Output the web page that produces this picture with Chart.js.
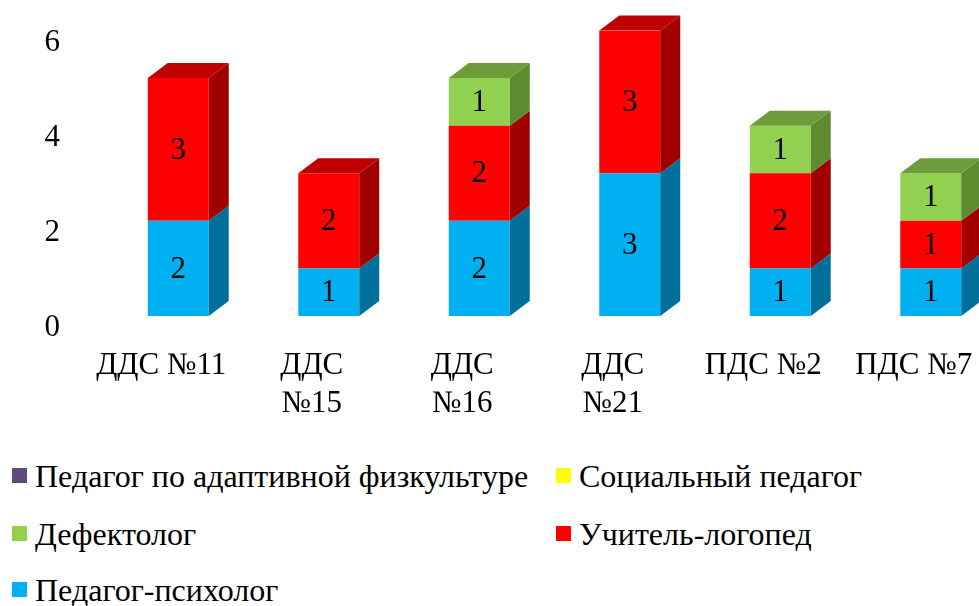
<!DOCTYPE html>
<html>
<head>
<meta charset="utf-8">
<script src="https://cdn.jsdelivr.net/npm/chart.js@4"></script>
<style>
    html, body { margin: 0; padding: 0; background: #fff; overflow: hidden; }
    #wrap { position: relative; width: 979px; height: 606px; overflow: hidden; }
    #chart { position: absolute; left: 0; top: 0; }
    .legend-item { position: absolute; font-family: "Liberation Serif", "Times New Roman", serif; font-size: 32px; color: #000; white-space: nowrap; line-height: 36px; }
    .legend-item span.box { position: absolute; width: 15px; height: 15px; left: 0; top: 10px; }
    .legend-item span.txt { position: absolute; left: 23px; top: 0; }
</style>
</head>
<body>
<div id="wrap">
    <canvas id="chart" width="1010" height="430"></canvas>
    <div id="legend"></div>
</div>
<script>
const categories = ['ДДС №11', ['ДДС', '№15'], ['ДДС', '№16'], ['ДДС', '№21'], 'ПДС №2', 'ПДС №7'];

const seriesNames = ['Педагог-психолог', 'Учитель-логопед', 'Дефектолог', 'Социальный педагог', 'Педагог по адаптивной физкультуре'];
const psychologist = [2, 1, 2, 3, 1, 1];
const speechTherapist = [3, 2, 2, 3, 2, 1];
const defectologist = [0, 0, 1, 0, 1, 1];
const socialPedagog = [0, 0, 0, 0, 0, 0];
const adaptivePE = [0, 0, 0, 0, 0, 0];
const yTicks = [0, 2, 4, 6];

// front / side / top colours for each series
const frontColors = ['#00B0F0', '#FF0000', '#92D050', '#FFFF00', '#604A7B'];
const sideColors = ['#00709A', '#A00000', '#5E8A30', '#A6A600', '#3E3050'];
const topColors = ['#0090C4', '#C00000', '#6E9C3C', '#C8C800', '#4C3B62'];

const FONT = '"Liberation Serif", "Times New Roman", serif';
const DEPTH_X = 20;
const DEPTH_Y = 15;

const seriesValues = [psychologist, speechTherapist, defectologist, socialPedagog, adaptivePE];

const datasets = seriesValues.map((vals, i) => ({
    label: seriesNames[i],
    data: vals,
    backgroundColor: frontColors[i],
    borderWidth: 0,
    barPercentage: 0.405,
    categoryPercentage: 1
}));

// draws the 3D side and top faces of the stacked columns
const depthPlugin = {
    id: 'depth',
    afterDatasetsDraw(chart) {
        const ctx = chart.ctx;
        ctx.save();
        categories.forEach((c, i) => {
            let top = null;
            chart.data.datasets.forEach((ds, d) => {
                if (!ds.data[i]) return;
                const bar = chart.getDatasetMeta(d).data[i];
                const p = bar.getProps(['x', 'y', 'base', 'width'], true);
                const x2 = p.x + p.width / 2;
                ctx.fillStyle = sideColors[d];
                ctx.beginPath();
                ctx.moveTo(x2, p.y);
                ctx.lineTo(x2 + DEPTH_X, p.y - DEPTH_Y);
                ctx.lineTo(x2 + DEPTH_X, p.base - DEPTH_Y);
                ctx.lineTo(x2, p.base);
                ctx.closePath();
                ctx.fill();
                top = { p: p, d: d };
            });
            if (top) {
                const p = top.p;
                const x1 = p.x - p.width / 2;
                const x2 = p.x + p.width / 2;
                ctx.fillStyle = topColors[top.d];
                ctx.beginPath();
                ctx.moveTo(x1, p.y);
                ctx.lineTo(x1 + DEPTH_X, p.y - DEPTH_Y);
                ctx.lineTo(x2 + DEPTH_X, p.y - DEPTH_Y);
                ctx.lineTo(x2, p.y);
                ctx.closePath();
                ctx.fill();
            }
        });
        ctx.restore();
    }
};

// value labels in the middle of each segment
const valueLabels = {
    id: 'valueLabels',
    afterDraw(chart) {
        const ctx = chart.ctx;
        ctx.save();
        ctx.font = '31px ' + FONT;
        ctx.fillStyle = '#000';
        ctx.textAlign = 'center';
        ctx.textBaseline = 'middle';
        chart.data.datasets.forEach((ds, d) => {
            chart.getDatasetMeta(d).data.forEach((bar, i) => {
                if (!ds.data[i]) return;
                const p = bar.getProps(['x', 'y', 'base'], true);
                ctx.fillText(ds.data[i], p.x, (p.y + p.base) / 2 + 1);
            });
        });
        ctx.restore();
    }
};

const ctx = document.getElementById('chart').getContext('2d');
const chart = new Chart(ctx, {
    type: 'bar',
    data: {
        labels: categories,
        datasets: datasets
    },
    options: {
        responsive: false,
        animation: false,
        layout: {
            padding: { top: 30.5, right: 4, left: 0, bottom: 0 }
        },
        plugins: {
            legend: { display: false },
            tooltip: { enabled: false }
        },
        scales: {
            x: {
                stacked: true,
                grid: { display: false },
                border: { display: false },
                ticks: {
                    color: '#000',
                    font: { family: FONT, size: 31, lineHeight: 1.23 },
                    labelOffset: -17,
                    padding: 23,
                    maxRotation: 0,
                    autoSkip: false
                },
                afterFit: (scale) => {
                    scale.height = 114;
                    scale.paddingLeft = 0;
                    scale.paddingRight = 0;
                }
            },
            y: {
                stacked: true,
                min: 0,
                max: 6,
                afterBuildTicks: (scale) => { scale.ticks = yTicks.map(v => ({ value: v })); },
                grid: { display: false },
                border: { display: false },
                ticks: {
                    color: '#000',
                    font: { family: FONT, size: 31 },
                    padding: 35,
                    labelOffset: 12
                },
                afterFit: (scale) => {
                    scale.width = 103;
                    scale.paddingTop = 0;
                    scale.paddingBottom = 0;
                }
            }
        }
    },
    plugins: [depthPlugin, valueLabels]
});

// legend in two columns, listed from the top of the stack down
const legendPos = [[12, 458], [556, 458], [12, 516], [556, 516], [12, 572]];
const legendEl = document.getElementById('legend');
datasets.slice().reverse().forEach((ds, k) => {
    const item = document.createElement('div');
    item.className = 'legend-item';
    item.style.left = legendPos[k][0] + 'px';
    item.style.top = legendPos[k][1] + 'px';
    item.innerHTML = '<span class="box" style="background:' + ds.backgroundColor + '"></span><span class="txt">' + ds.label + '</span>';
    legendEl.appendChild(item);
});
</script>
</body>
</html>
